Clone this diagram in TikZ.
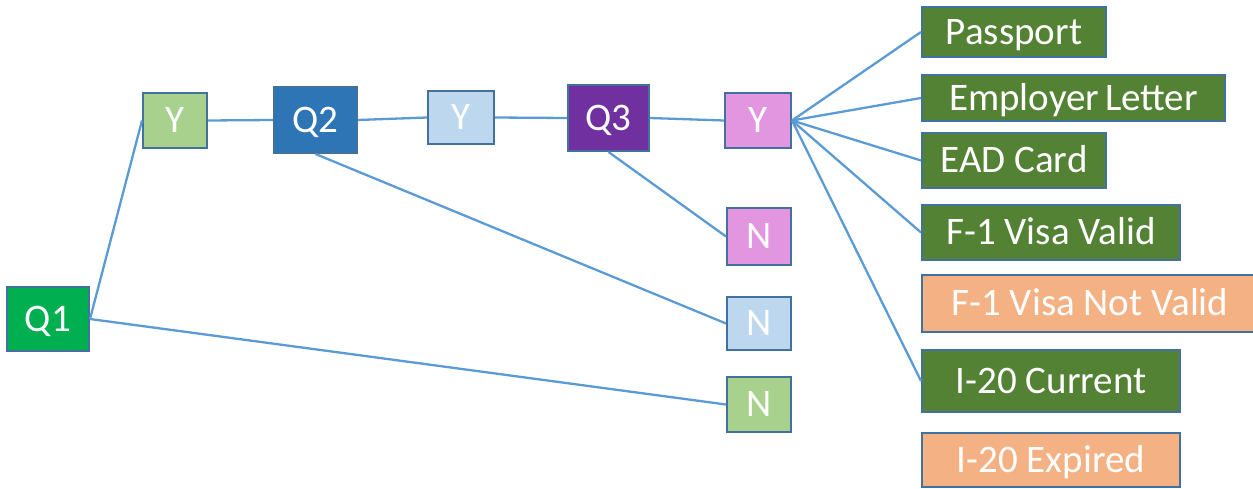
\documentclass[tikz,border=0pt]{standalone}
\usepackage{fontspec}
\setmainfont{Carlito}
\definecolor{bord}{HTML}{41719C}
\definecolor{link}{HTML}{5B9BD5}
\definecolor{qone}{HTML}{00B050}
\definecolor{lgreen}{HTML}{A9D18E}
\definecolor{qtwo}{HTML}{2E75B6}
\definecolor{lblue}{HTML}{BDD7EE}
\definecolor{qthree}{HTML}{7030A0}
\definecolor{pink}{HTML}{E196DF}
\definecolor{dgreen}{HTML}{548235}
\definecolor{orange}{HTML}{F4B183}
\tikzset{
  box/.style={draw=bord, line width=2pt, rectangle, inner sep=0pt,
    text=white, font=\fontsize{39}{39}\selectfont,
    text height=24.5pt, text depth=0pt},
  conn/.style={draw=link, line width=2.3pt}
}
\begin{document}
\begin{tikzpicture}[x=1pt,y=-1pt]
\useasboundingbox (0,0) rectangle (1253,489);
% question boxes
\node[box, fill=qone, minimum width=82pt, minimum height=64pt] (q1) at (48,319) {Q1};
\node[box, fill=lgreen, minimum width=64pt, minimum height=55pt] (y1) at (175,120.5) {Y};
\node[box, fill=qtwo, minimum width=83pt, minimum height=66pt] (q2) at (315.5,120) {Q2};
\node[box, fill=lblue, minimum width=66pt, minimum height=53pt] (y2) at (461,117.5) {Y};
\node[box, fill=qthree, minimum width=81pt, minimum height=66pt] (q3) at (608.5,118) {Q3};
\node[box, fill=pink, minimum width=66pt, minimum height=55pt] (y3) at (758,120.5) {Y};
\node[box, fill=pink, minimum width=64pt, minimum height=57pt] (n1) at (759,236.5) {N};
\node[box, fill=lblue, minimum width=64pt, minimum height=53pt] (n2) at (759,323.5) {N};
\node[box, fill=lgreen, minimum width=64pt, minimum height=55pt] (n3) at (759,404.5) {N};
% document boxes
\node[box, fill=dgreen, minimum width=184pt, minimum height=50pt] (pass) at (1014,32) {Passport};
\node[box, fill=dgreen, minimum width=303pt, minimum height=46pt] (emp) at (1073.5,98) {Employer\hspace{-3pt} Letter};
\node[box, fill=dgreen, minimum width=184pt, minimum height=55pt] (ead) at (1014,160.5) {EAD Card};
\node[box, fill=dgreen, minimum width=258pt, minimum height=55pt] (fv) at (1051,232.5) {F-1 Visa Valid};
\node[box, fill=orange, minimum width=336pt, minimum height=57pt] (fnv) at (1090,303.5) {F-1 Visa Not Valid};
\node[box, fill=dgreen, minimum width=258pt, minimum height=62pt] (ic) at (1051,381) {I-20 Current};
\node[box, fill=orange, minimum width=258pt, minimum height=54pt] (ie) at (1051,460) {I-20 Expired};
% connectors
\draw[conn] (q1.east) -- (y1.west);
\draw[conn] (q1.east) -- (n3.west);
\draw[conn] (y1.east) -- (q2.west);
\draw[conn] (q2.south) -- (n2.west);
\draw[conn] (q2.east) -- (y2.west);
\draw[conn] (y2.east) -- (q3.west);
\draw[conn] (q3.south) -- (n1.west);
\draw[conn] (q3.east) -- (y3.west);
\draw[conn] (y3.east) -- (pass.west);
\draw[conn] (y3.east) -- (emp.west);
\draw[conn] (y3.east) -- (ead.west);
\draw[conn] (y3.east) -- (fv.west);
\draw[conn] (y3.east) -- (ic.west);
\end{tikzpicture}
\end{document}
